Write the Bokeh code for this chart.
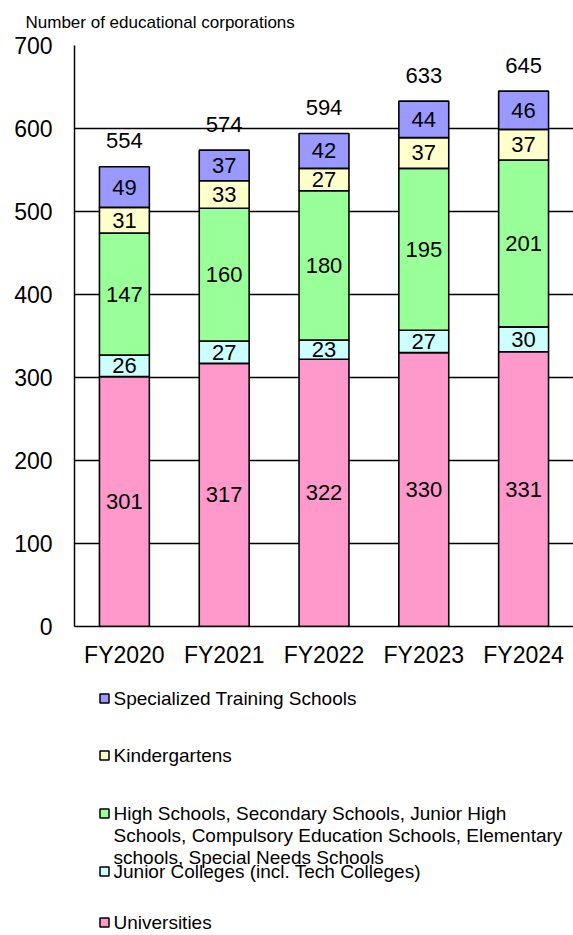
import numpy as np
from bokeh.plotting import figure
from bokeh.models import ColumnDataSource, Range1d, FactorRange, FixedTicker
from bokeh.layouts import column
from bokeh.core.properties import value
from bokeh.embed import file_html
from bokeh.resources import INLINE

# ---------------- data ----------------
years = ["FY2020", "FY2021", "FY2022", "FY2023", "FY2024"]
universities = [301, 317, 322, 330, 331]
junior_colleges = [26, 27, 23, 27, 30]
high_schools = [147, 160, 180, 195, 201]
kindergartens = [31, 33, 27, 37, 37]
specialized = [49, 37, 42, 44, 46]
totals = [554, 574, 594, 633, 645]

series_names = ["Universities", "Junior Colleges", "High Schools", "Kindergartens", "Specialized"]
series_values = [universities, junior_colleges, high_schools, kindergartens, specialized]
series_colors = ["#FF99CC", "#CCFFFF", "#99FF99", "#FFFFCC", "#9999FF"]

legend_labels = [
    "Specialized Training Schools",
    "Kindergartens",
    "High Schools, Secondary Schools, Junior High\nSchools, Compulsory Education Schools, Elementary\nschools, Special Needs Schools",
    "Junior Colleges  (incl. Tech Colleges)",
    "Universities",
]
legend_colors = ["#9999FF", "#FFFFCC", "#99FF99", "#CCFFFF", "#FF99CC"]
y_title = "Number of educational corporations"
y_ticks = [0, 100, 200, 300, 400, 500, 600, 700]

FONT = value("Liberation Sans")

# ---------------- main chart ----------------
p = figure(x_range=FactorRange(*years, range_padding=0), y_range=Range1d(0, 700),
           width=573, height=670, output_backend="svg", toolbar_location=None,
           min_border_left=74, min_border_right=0, min_border_top=45, min_border_bottom=43)

data = {"x": years}
for n, v in zip(series_names, series_values):
    data[n] = v
src = ColumnDataSource(data)
p.vbar_stack(series_names, x="x", width=0.5, source=src, color=series_colors,
             line_color="black", line_width=1.6)

# segment labels
vals = np.array(series_values, dtype=float)
cum = np.cumsum(vals, axis=0)
centers = cum - vals / 2.0
lx, ly, lt = [], [], []
for i in range(vals.shape[0]):
    for j, yr in enumerate(years):
        lx.append(yr)
        ly.append(centers[i, j])
        lt.append(str(int(vals[i, j])))
p.text(x=lx, y=ly, text=lt, text_align="center", text_baseline="middle",
       text_font=FONT, text_font_size="22px", text_color="black")

# totals
p.text(x=years, y=totals, text=[str(t) for t in totals], y_offset=-26,
       text_align="center", text_baseline="middle",
       text_font=FONT, text_font_size="22px", text_color="black")

p.title.text = y_title
p.title.align = "left"
p.title.vertical_align = "top"
p.title.offset = -49
p.title.standoff = 23
p.title.text_font = "Liberation Sans"
p.title.text_font_size = "17px"
p.title.text_font_style = "normal"
p.title.text_color = "black"

p.yaxis.ticker = FixedTicker(ticks=y_ticks)
p.ygrid.ticker = FixedTicker(ticks=y_ticks)
p.ygrid.grid_line_color = "black"
p.ygrid.grid_line_width = 1.5
p.xgrid.grid_line_color = None
for ax in (p.xaxis, p.yaxis):
    ax.axis_line_color = "black"
    ax.axis_line_width = 1.5
    ax.major_tick_line_color = None
    ax.minor_tick_line_color = None
    ax.major_tick_in = 0
    ax.major_tick_out = 0
    ax.major_label_text_font = "Liberation Sans"
    ax.major_label_text_font_size = "23px"
    ax.major_label_text_color = "black"
p.yaxis.major_label_standoff = 22
p.xaxis.major_label_standoff = 15
p.outline_line_color = None
p.background_fill_color = "white"
p.border_fill_color = "white"

# ---------------- legend panel ----------------
# frame of this panel is aligned with the chart frame (x from 74 to 573)
lg = figure(x_range=Range1d(74, 573), y_range=Range1d(265, 0), width=573, height=265,
            output_backend="svg", toolbar_location=None,
            min_border_left=74, min_border_right=0, min_border_top=0, min_border_bottom=0)
lg.axis.visible = False
lg.grid.grid_line_color = None
lg.outline_line_color = None
item_y = [28, 85, 143, 201, 252]
lg.scatter(x=[104] * 5, y=item_y, marker="square", size=9, fill_color=legend_colors,
           line_color="black", line_width=1.5)
lg.text(x=[113] * 5, y=[yy - 11 for yy in item_y], text=legend_labels, text_align="left",
        text_baseline="top", text_font=FONT, text_font_size="19px", text_color="black",
        text_line_height=1.07)

layout = column(p, lg, spacing=0)
open("out.html", "w").write(file_html(layout, INLINE))
